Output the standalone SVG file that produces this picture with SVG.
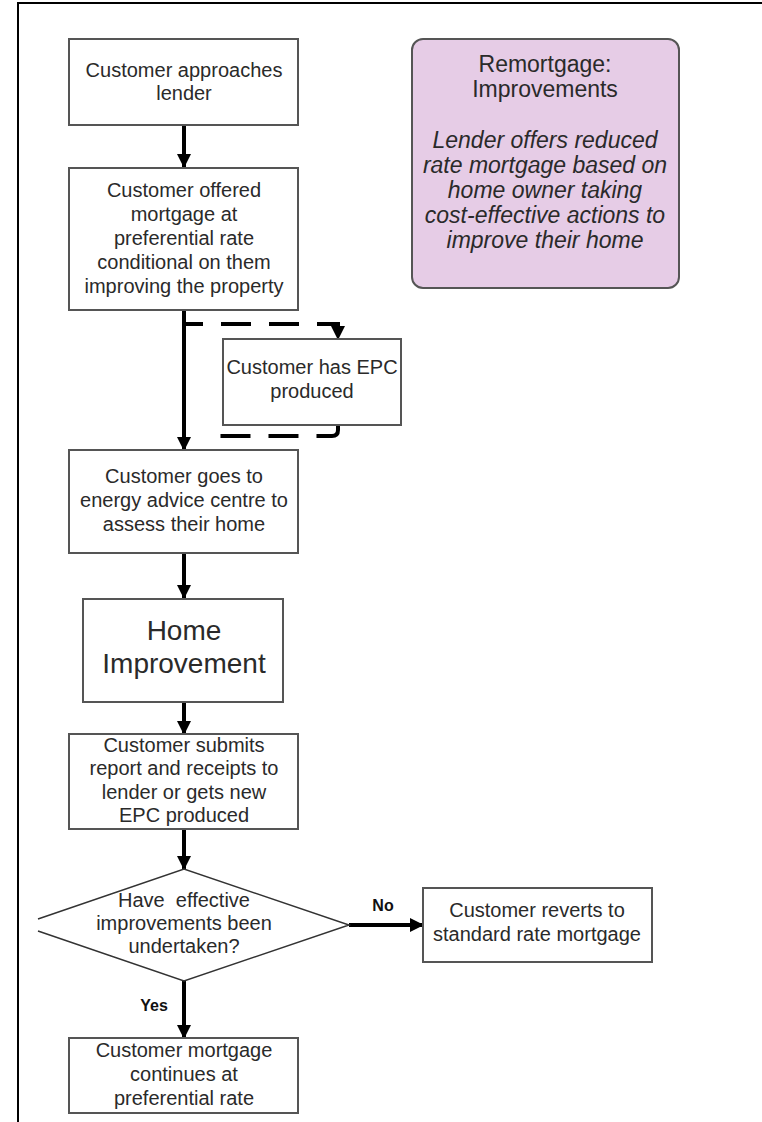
<svg xmlns="http://www.w3.org/2000/svg" width="762" height="1122" viewBox="0 0 762 1122">
<defs>
<marker id="ah" viewBox="0 0 14 14" refX="13" refY="7" markerWidth="14" markerHeight="14" markerUnits="userSpaceOnUse" orient="auto">
<path d="M0,0 L14,7 L0,14 Z" fill="#000"/>
</marker>
</defs>
<style>
.box{fill:#fff;stroke:#555;stroke-width:2}
.t{font-family:"Liberation Sans",Arial,sans-serif;font-size:20px;fill:#2a2a2a;text-anchor:middle}
.big{font-size:28px}
.ti{font-family:"Liberation Sans",Arial,sans-serif;font-size:23px;fill:#2a2a2a;text-anchor:middle}
.it{font-style:italic}
.lbl{font-family:"Liberation Sans",Arial,sans-serif;font-size:16px;font-weight:bold;fill:#111;text-anchor:middle}
.c{fill:none;stroke:#000;stroke-width:4}
.d{fill:none;stroke:#000;stroke-width:4;stroke-dasharray:30 18}
</style>
<rect width="762" height="1122" fill="#fff"/>
<path d="M18,1122 L18,3 L762,3" fill="none" stroke="#000" stroke-width="2"/>

<g id="connectors">
<line class="c" x1="184" y1="125" x2="184" y2="167" marker-end="url(#ah)"/>
<line class="c" x1="184" y1="310" x2="184" y2="450" marker-end="url(#ah)"/>
<path class="d" d="M186,324 L338,324 L338,339" stroke-dashoffset="13" marker-end="url(#ah)"/>
<path class="d" d="M338,425 L338,430 Q338,436 332,436 L210,436"/>
<line class="c" x1="184" y1="553" x2="184" y2="598" marker-end="url(#ah)"/>
<line class="c" x1="184" y1="702" x2="184" y2="734" marker-end="url(#ah)"/>
<line class="c" x1="184" y1="829" x2="184" y2="869" marker-end="url(#ah)"/>
<line class="c" x1="349" y1="925" x2="423" y2="925" marker-end="url(#ah)"/>
<line class="c" x1="184" y1="981" x2="184" y2="1038" marker-end="url(#ah)"/>
<text class="lbl" x="383" y="911">No</text>
<text class="lbl" x="154" y="1011">Yes</text>
</g>

<g id="n1">
<rect class="box" x="69" y="39" width="229" height="86"/>
<text class="t" x="184" y="77">Customer approaches</text>
<text class="t" x="184" y="100">lender</text>
</g>

<g id="n2">
<rect class="box" x="69" y="168" width="229" height="142"/>
<text class="t" x="184" y="197">Customer offered</text>
<text class="t" x="184" y="221">mortgage at</text>
<text class="t" x="184" y="245">preferential rate</text>
<text class="t" x="184" y="269">conditional on them</text>
<text class="t" x="184" y="293">improving the property</text>
</g>

<g id="info">
<rect x="412" y="39" width="267" height="249" rx="11" ry="11" fill="#e6cce6" stroke="#555" stroke-width="2"/>
<text class="ti" x="545" y="72">Remortgage:</text>
<text class="ti" x="545" y="97">Improvements</text>
<text class="ti it" x="545" y="148">Lender offers reduced</text>
<text class="ti it" x="545" y="173">rate mortgage based on</text>
<text class="ti it" x="545" y="198">home owner taking</text>
<text class="ti it" x="545" y="223">cost-effective actions to</text>
<text class="ti it" x="545" y="248">improve their home</text>
</g>

<g id="epc">
<rect class="box" x="223" y="339" width="178" height="86"/>
<text class="t" x="312" y="374">Customer has EPC</text>
<text class="t" x="312" y="398">produced</text>
</g>

<g id="n3">
<rect class="box" x="69" y="450" width="229" height="103"/>
<text class="t" x="184" y="483">Customer goes to</text>
<text class="t" x="184" y="507">energy advice centre to</text>
<text class="t" x="184" y="531">assess their home</text>
</g>

<g id="n4">
<rect class="box" x="83" y="599" width="200" height="103"/>
<text class="t big" x="184" y="640">Home</text>
<text class="t big" x="184" y="673">Improvement</text>
</g>

<g id="n5">
<rect class="box" x="69" y="734" width="229" height="95"/>
<text class="t" x="184" y="752">Customer submits</text>
<text class="t" x="184" y="775">report and receipts to</text>
<text class="t" x="184" y="799">lender or gets new</text>
<text class="t" x="184" y="822">EPC produced</text>
</g>

<g id="decision">
<path d="M38,919 L184,869 L349,925 L184,981 L38,931" fill="#fff" stroke="#333" stroke-width="1.5"/>
<text class="t" x="184" y="907" xml:space="preserve">Have  effective</text>
<text class="t" x="184" y="930">improvements been</text>
<text class="t" x="184" y="953">undertaken?</text>
</g>

<g id="no">
<rect class="box" x="423" y="888" width="229" height="74"/>
<text class="t" x="537" y="917">Customer reverts to</text>
<text class="t" x="537" y="941">standard rate mortgage</text>
</g>

<g id="yes">
<rect class="box" x="69" y="1038" width="229" height="75"/>
<text class="t" x="184" y="1057">Customer mortgage</text>
<text class="t" x="184" y="1081">continues at</text>
<text class="t" x="184" y="1105">preferential rate</text>
</g>
</svg>
